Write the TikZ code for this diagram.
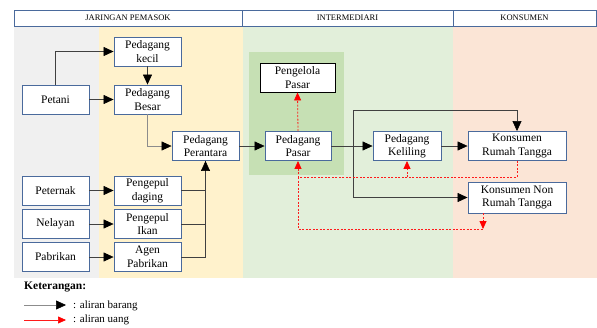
\documentclass[tikz,border=0pt]{standalone}
\usepackage{fontspec}
\setmainfont{Liberation Serif}
\usepackage{tikz}
\usetikzlibrary{arrows.meta}
\usetikzlibrary{positioning}
\definecolor{bingkai}{HTML}{4A6A9C}
\definecolor{abu}{HTML}{F0F0F0}
\definecolor{kuning}{HTML}{FFF2CC}
\definecolor{hijau}{HTML}{E2EFDA}
\definecolor{hijautua}{HTML}{C6E0B4}
\definecolor{persik}{HTML}{FBE5D6}
\definecolor{merah}{HTML}{FF1A1A}
\tikzstyle{kotak}=[draw=bingkai,line width=0.9pt,fill=white,minimum width=67pt,minimum height=29pt,inner sep=1pt,align=center,font=\fontsize{11.5}{13.5}\selectfont]
\tikzstyle{kolom}=[draw=bingkai,line width=0.9pt,fill=white,minimum height=16pt,inner sep=0pt,font=\fontsize{8.5}{10}\selectfont]
\tikzstyle{barang}=[draw=black!75,line width=0.6pt,-{Triangle[length=10pt,width=9pt,black]}]
\tikzstyle{uang}=[draw=merah,dash pattern=on 2pt off 1.5pt,line width=0.8pt,-{Triangle[length=8pt,width=7pt,red]}]
\tikzstyle{garisuang}=[draw=merah,dash pattern=on 2pt off 1.5pt,line width=0.8pt]
\def\cPd{Pedagang}
\def\cKs{Konsumen}

\begin{document}
\begin{tikzpicture}[x=1pt,y=-1pt]
     % \draw[help lines] (0,0) grid (597,327);
      \useasboundingbox (0,0) rectangle (597,327);
      \fill[abu] (14,26) rectangle (99,278);
      \fill[kuning] (99,26) rectangle (243,278);
      \fill[hijau] (243,26) rectangle (453,278);
      \fill[persik] (453,26) rectangle (597,278);
      \fill[hijautua] (249,52) rectangle (344,175);

      \node [kolom, minimum width=228pt] (hJ) at (128,18) {JARINGAN PEMASOK};
      \node [kolom, minimum width=211pt] (hI) at (347.5,18) {INTERMEDIARI};
      \node [kolom, minimum width=143pt] (hK) at (524.5,18) {KONSUMEN};

      \node [kotak] (Pk) at (147.5,51.5) {\cPd\\kecil};
      \node [kotak] (Pt) at (55.5,99.5) {Petani};
      \node [kotak] (Pb) at (147.5,99.5) {\cPd\\Besar};
      \node [kotak] (Pp) at (205.5,146) {\cPd\\Perantara};
      \node [kotak, minimum width=66pt] (Ps) at (298,146) {\cPd\\Pasar};
      \node [kotak, draw=black, minimum width=75pt] (Pl) at (297.5,77.5) {Pengelola\\Pasar};
      \node [kotak, minimum width=68pt] (Kl) at (407,146) {\cPd\\Keliling};
      \node [kotak, minimum width=98pt] (Kr) at (517,146) {\cKs\\Rumah Tangga};
      \node [kotak, minimum width=98pt, minimum height=31pt] (Kn) at (517,197.5) {\cKs{} Non\\Rumah Tangga};
      \node [kotak] (Tr) at (55.5,190.5) {Peternak};
      \node [kotak] (Pd) at (147.5,190.5) {Pengepul\\daging};
      \node [kotak] (Nl) at (55.5,224) {Nelayan};
      \node [kotak] (Pi) at (147.5,224) {Pengepul\\Ikan};
      \node [kotak] (Pa) at (55.5,257) {Pabrikan};
      \node [kotak] (Ag) at (147.5,257) {Agen\\Pabrikan};

      \coordinate (cab) at (353,146);
      \coordinate (atas) at (353,110);
      \coordinate (ub) at (298,177);
      \coordinate (ud) at (298,229);
      \coordinate (ue) at (483,229);

      \draw [barang] (Pt.north) |- (Pk.west);
      \draw [barang] (Pt) -- (Pb);
      \draw [barang] (Pk) -- (Pb);
      \draw [barang, draw=black!45] (Pb.south) |- (Pp.west);
      \draw [barang] (Tr) -- (Pd);
      \draw [barang] (Nl) -- (Pi);
      \draw [barang] (Pa) -- (Ag);
      \draw [draw=black!75, line width=0.6pt] (Pd.east) -| (Pp.south)
                                              (Pi.east) -| (Pp.south);
      \draw [barang] (Ag.east) -| (Pp.south);
      \draw [barang] (Pp) -- (Ps);
      \draw [barang] (Ps) -- (Kl);
      \draw [barang] (cab) -- (atas) -| (Kr.north);
      \draw [barang] (cab) |- (Kn.west);
      \draw [barang] (Kl) -- (Kr);

      \draw [uang] (Ps.north) -- (Pl.south);
      \draw [uang] (Kr.south) |- (ub) -- (Ps.south);
      \draw [uang] (Kl.south |- ub) -- (Kl.south);
      \draw [garisuang] (ub) -- (ud) -- (ue);
      \draw [uang] (Kn.south -| ue) -- (ue);

      \node [anchor=west, inner sep=0pt, font=\bfseries\fontsize{11.5}{13}\selectfont] (ket) at (24,287) {Keterangan:};
      \coordinate (b1) at (24,305);
      \coordinate (b2) at (66,305);
      \coordinate (u1) at (24,320);
      \coordinate (u2) at (66,320);
      \draw [barang, draw=black!45] (b1) -- (b2);
      \draw [uang, solid, line width=0.6pt] (u1) -- (u2);
      \node [anchor=west, inner sep=0pt, font=\fontsize{11}{13}\selectfont] (tb) at (73,306) {: aliran barang};
      \node [anchor=west, inner sep=0pt, font=\fontsize{11}{13}\selectfont] (tu) at (73,320) {: aliran uang};
\end{tikzpicture}
\end{document}
